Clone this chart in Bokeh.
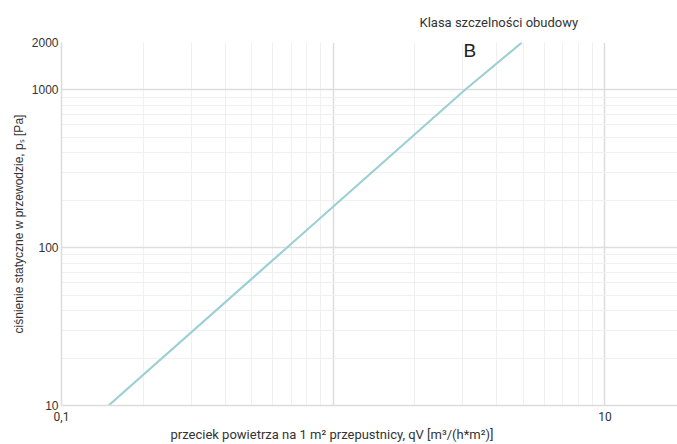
from bokeh.plotting import figure
from bokeh.models import Range1d, FixedTicker, Label, Title
from bokeh.embed import file_html
from bokeh.resources import INLINE

# data: static pressure [Pa] vs leakage qV [m3/(h*m2)]
pressure_pa = [10, 100, 1000, 2000]
leak_class_b = [0.149, 0.675, 3.05, 4.95]

x_major = [0.1, 1, 10]
x_minor = [0.2, 0.3, 0.4, 0.5, 0.6, 0.7, 0.8, 0.9, 2, 3, 4, 5, 6, 7, 8, 9]
y_major = [10, 100, 1000, 2000]
y_minor = [20, 30, 40, 50, 60, 70, 80, 90, 200, 300, 400, 500, 600, 700, 800, 900, 2000]

title_text = "Klasa szczelności obudowy"
class_label = "B"
x_label = "przeciek powietrza na 1 m² przepustnicy, qV [m³/(h*m²)]"
y_label = "ciśnienie statyczne w przewodzie, pₛ [Pa]"

p = figure(width=677, height=444, x_axis_type="log", y_axis_type="log",
           x_range=Range1d(0.1, 18.5), y_range=Range1d(10, 2000),
           output_backend="svg", toolbar_location=None,
           min_border_left=61, min_border_right=0, min_border_top=42, min_border_bottom=39)
p.outline_line_color = None
p.background_fill_color = "white"
p.border_fill_color = "white"

p.line(leak_class_b, pressure_pa, line_color="#9dd0d5", line_width=2.2)

# axes
p.xaxis.ticker = FixedTicker(ticks=x_major, minor_ticks=x_minor)
p.xaxis.major_label_overrides = {0.1: "0,1", 1: "", 10: "10"}
p.yaxis.ticker = FixedTicker(ticks=y_major, minor_ticks=y_minor)
p.yaxis.major_label_overrides = {10: "10", 100: "100", 1000: "1000", 2000: "2000"}
for ax in (p.xaxis[0], p.yaxis[0]):
    ax.major_tick_line_color = None
    ax.minor_tick_line_color = None
    ax.major_tick_out = 0
    ax.minor_tick_out = 0
    ax.major_tick_in = 0
    ax.minor_tick_in = 0
    ax.axis_line_color = "#dcdcdc"
    ax.axis_line_width = 1.5
    ax.major_label_text_color = "#333333"
    ax.major_label_text_font_size = "12px"
p.xaxis.major_label_text_font = "Roboto"
p.xaxis.major_label_standoff = 6
p.yaxis.major_label_text_font = "Liberation Sans"
p.yaxis.major_label_standoff = 3
p.yaxis.axis_label = y_label
p.yaxis.axis_label_text_font = "Liberation Sans"
p.yaxis.axis_label_text_font_style = "normal"
p.yaxis.axis_label_text_font_size = "12px"
p.yaxis.axis_label_text_color = "#333333"
p.yaxis.axis_label_standoff = 3

# grids
p.xgrid.ticker = FixedTicker(ticks=[1, 10], minor_ticks=x_minor)
p.ygrid.ticker = FixedTicker(ticks=[100, 1000], minor_ticks=y_minor)
for g in (p.xgrid[0], p.ygrid[0]):
    g.grid_line_color = "#dddddd"
    g.grid_line_width = 1.5
    g.minor_grid_line_color = "#f0f0f0"
    g.minor_grid_line_width = 1

p.add_layout(Title(text=title_text, align="left", offset=358, standoff=25,
                   text_font="Roboto", text_font_size="13px", text_font_style="normal",
                   text_color="#333333"), "above")
p.add_layout(Label(x=3.18, y=2000, y_offset=-8, text=class_label, text_align="center",
                   text_baseline="middle", text_font="Liberation Sans", text_font_size="19px",
                   text_color="#222222"))
p.add_layout(Title(text=x_label, align="left", offset=109, standoff=3,
                   text_font="Roboto", text_font_size="13px", text_font_style="normal",
                   text_color="#333333"), "below")

open("out.html", "w").write(file_html(p, INLINE))
